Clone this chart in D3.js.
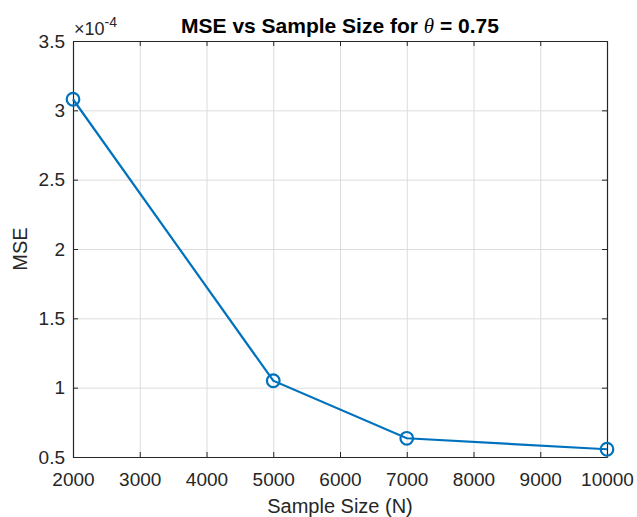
<!DOCTYPE html>
<html>
<head>
<style>
body { margin:0; background:#fff; }
text { font-family: "Liberation Sans", Arial, sans-serif; fill:#262626; }
.grid line { stroke:#dcdcdc; stroke-width:1; }
.grid path { display:none; }
.axis path, .axis line { stroke:#262626; }
</style>
</head>
<body>
<svg id="chart" width="637" height="517"></svg>
<script src="https://d3js.org/d3.v7.min.js"></script>
<script>

// data (MSE in units of 1e-4)
var sampleSizes = [2000, 5000, 7000, 10000];
var mseValues = [3.08, 1.05, 0.635, 0.556];
var xTicks = [2000, 3000, 4000, 5000, 6000, 7000, 8000, 9000, 10000];
var yTicks = [0.5, 1, 1.5, 2, 2.5, 3, 3.5];

var margin = {top: 41, right: 30, bottom: 60, left: 73},
    width = 637 - margin.left - margin.right,
    height = 517 - margin.top - margin.bottom;

var svg = d3.select("#chart");
var g = svg.append("g")
    .attr("transform", "translate(" + margin.left + "," + margin.top + ")");

var x = d3.scaleLinear().domain([2000, 10000]).range([0, width]),
    y = d3.scaleLinear().domain([0.5, 3.5]).range([height, 0]);

// grid
g.append("g").attr("class", "grid")
  .attr("transform", "translate(0," + height + ")")
  .call(d3.axisBottom(x).tickValues(xTicks).tickSize(-height).tickFormat(""));
g.append("g").attr("class", "grid")
  .call(d3.axisLeft(y).tickValues(yTicks).tickSize(-width).tickFormat(""));

// box axes, ticks pointing inward
var fmtY = function(d) { return d3.format("~g")(d); };

var xb = g.append("g").attr("class", "axis")
  .attr("transform", "translate(0," + height + ")")
  .call(d3.axisBottom(x).tickValues(xTicks).tickSize(-5).tickSizeOuter(0).tickPadding(16).tickFormat(d3.format("d")));
xb.selectAll("text").style("font-size", "19px");

g.append("g").attr("class", "axis")
  .call(d3.axisTop(x).tickValues(xTicks).tickSize(-5).tickSizeOuter(0).tickFormat(""));

var yl = g.append("g").attr("class", "axis")
  .call(d3.axisLeft(y).tickValues(yTicks).tickSize(-5).tickSizeOuter(0).tickPadding(8).tickFormat(fmtY));
yl.selectAll("text").style("font-size", "19px");

g.append("g").attr("class", "axis")
  .attr("transform", "translate(" + width + ",0)")
  .call(d3.axisRight(y).tickValues(yTicks).tickSize(-5).tickSizeOuter(0).tickFormat(""));

g.selectAll(".axis .domain").attr("stroke-width", 1.2);

// line
var pts = sampleSizes.map(function(n, i) { return {n: n, v: mseValues[i]}; });
var line = d3.line().x(function(d) { return x(d.n); }).y(function(d) { return y(d.v); });

g.append("path").datum(pts)
  .attr("fill", "none")
  .attr("stroke", "#0072BD")
  .attr("stroke-width", 2.2)
  .attr("d", line);

g.selectAll(".marker").data(pts).enter().append("circle")
  .attr("class", "marker")
  .attr("cx", function(d) { return x(d.n); })
  .attr("cy", function(d) { return y(d.v); })
  .attr("r", 6.3)
  .attr("fill", "none")
  .attr("stroke", "#0072BD")
  .attr("stroke-width", 2.2);

// exponent label
var ex = svg.append("text")
  .attr("x", margin.left + 1)
  .attr("y", 35)
  .style("font-size", "18px");
ex.append("tspan").text("\u00d710");
ex.append("tspan").attr("dy", -8).style("font-size", "14px").text("-4");

// title
var t = svg.append("text")
  .attr("x", margin.left + width / 2)
  .attr("y", 33)
  .attr("text-anchor", "middle")
  .style("font-size", "21px")
  .style("font-weight", "bold")
  .style("fill", "#000");
t.append("tspan").text("MSE vs Sample Size for ");
t.append("tspan").style("font-family", "'Liberation Serif', serif").style("font-style", "italic").style("font-weight", "normal").text("\u03b8");
t.append("tspan").text(" = 0.75");

// axis labels
svg.append("text")
  .attr("x", margin.left + width / 2)
  .attr("y", 513)
  .attr("text-anchor", "middle")
  .style("font-size", "20px")
  .text("Sample Size (N)");

svg.append("text")
  .attr("transform", "translate(27," + (margin.top + height / 2) + ") rotate(-90)")
  .attr("text-anchor", "middle")
  .style("font-size", "20px")
  .text("MSE");

</script>
</body>
</html>
